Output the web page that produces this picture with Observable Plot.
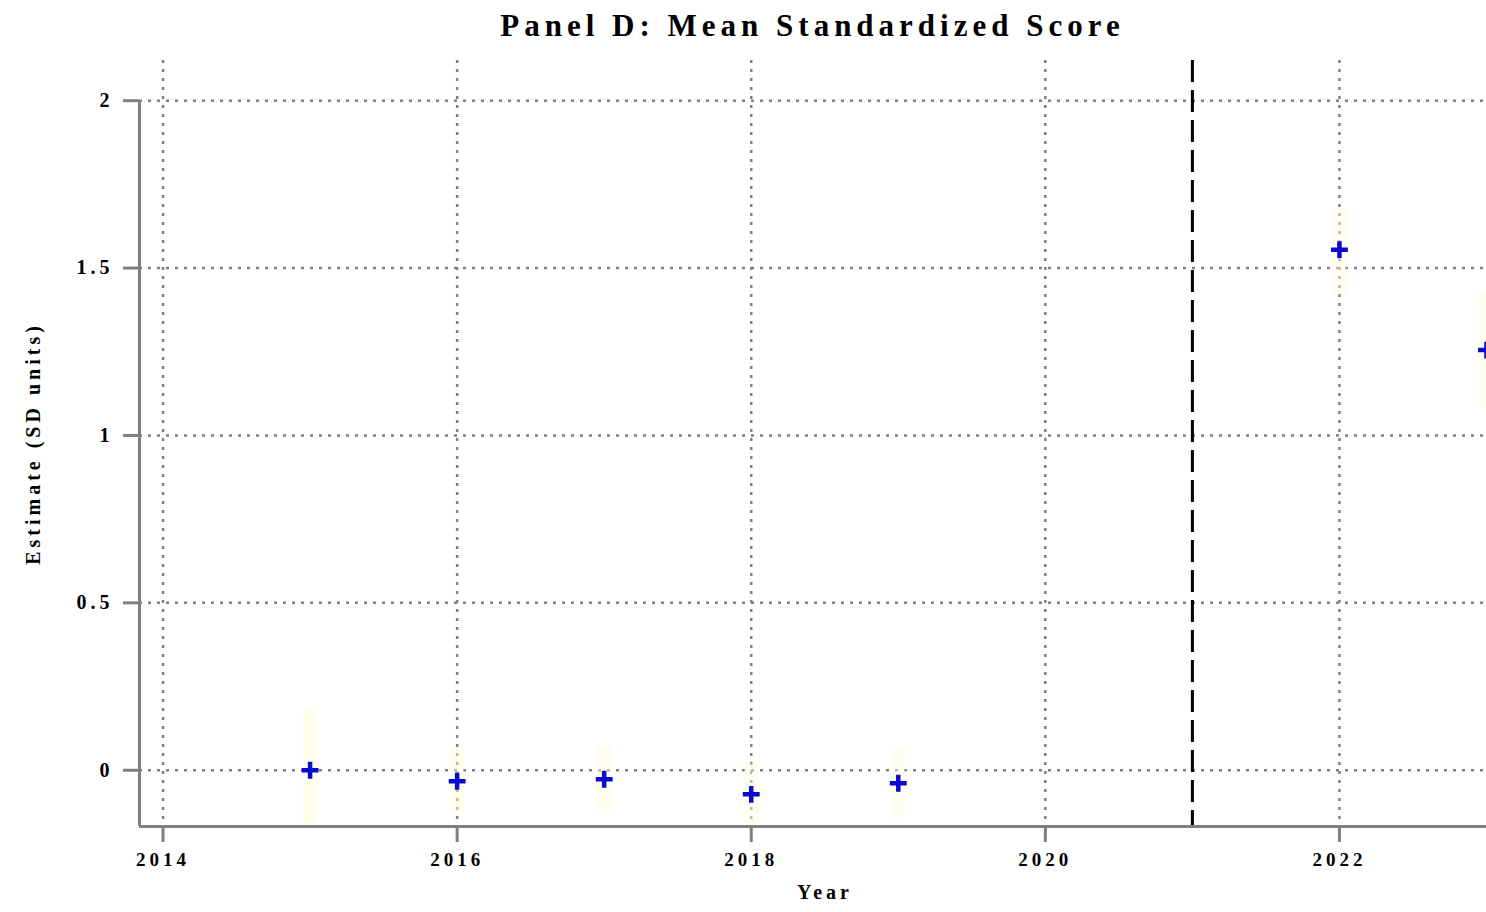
<!DOCTYPE html>
<html>
<head>
<meta charset="utf-8">
<script src="https://cdn.jsdelivr.net/npm/d3@7"></script>
<script src="https://cdn.jsdelivr.net/npm/@observablehq/plot@0.6"></script>
<style>
  html, body { margin: 0; padding: 0; background: #fff; }
  #title { height: 50px; margin-left: 139px; width: 1347px; text-align: center;
           font-family: "Liberation Serif", serif; font-size: 31px; letter-spacing: 5px;
           line-height: 52px; color: #000; font-weight: bold; }
  #chart svg { display: block; }
</style>
</head>
<body>
<div id="title">Panel D: Mean Standardized Score</div>
<div id="chart"></div>
<script>
const years = [2015, 2016, 2017, 2018, 2019, 2022, 2023];
const estimates = [0.0, -0.033, -0.027, -0.072, -0.039, 1.555, 1.255];
const ciLow = [-0.17, -0.13, -0.12, -0.16, -0.14, 1.42, 1.08];
const ciHigh = [0.18, 0.06, 0.07, 0.02, 0.06, 1.68, 1.43];
const xTicks = [2014, 2016, 2018, 2020, 2022];
const yTicks = [0, 0.5, 1, 1.5, 2];
const yTickLabels = ["0", "0.5", "1", "1.5", "2"];
const breakYear = [2021];
const xDomain = [2013.84, 2023];
const yDomain = [-0.168, 2.12];

const data = years.map((y, i) => ({year: y, est: estimates[i], lo: ciLow[i], hi: ciHigh[i]}));

const chart = Plot.plot({
  width: 1486,
  height: 862,
  marginLeft: 139,
  marginRight: 0,
  marginTop: 10,
  marginBottom: 86,
  style: {fontFamily: "Liberation Serif, serif", fontSize: "19px", letterSpacing: "4px", fontWeight: "bold", color: "#000", background: "#fff"},
  x: {domain: xDomain},
  y: {domain: yDomain},
  marks: [
    Plot.gridX(xTicks, {stroke: "#808080", strokeOpacity: 1, strokeWidth: 2.5, strokeDasharray: "3,6"}),
    Plot.gridY(yTicks, {stroke: "#808080", strokeOpacity: 1, strokeWidth: 2.5, strokeDasharray: "3,6"}),
    Plot.ruleX(data, {x: "year", y1: "lo", y2: "hi", stroke: "#fffbd8", strokeOpacity: 0.45, strokeWidth: 14, clip: true}),
    Plot.ruleX(breakYear, {stroke: "#000", strokeWidth: 3, strokeDasharray: "22,8"}),
    Plot.ruleX([xDomain[0]], {y1: yDomain[0], y2: 2, stroke: "#808080", strokeWidth: 3}),
    Plot.ruleY([yDomain[0]], {stroke: "#808080", strokeWidth: 3}),
    Plot.axisX(xTicks, {tickFormat: d => String(d), tickSize: 16, tickPadding: 10, stroke: "#808080", strokeWidth: 3, fontSize: 19, fill: "#000", label: null}),
    Plot.axisY(yTicks, {tickFormat: (d) => yTickLabels[yTicks.indexOf(d)], tickSize: 16, tickPadding: 10, stroke: "#808080", strokeWidth: 3, fontSize: 20, fill: "#000", label: null}),
    Plot.dot(data, {x: "year", y: "est", symbol: "plus", r: 5.5, stroke: "#0a0ad0", strokeWidth: 4.5, clip: true}),
    Plot.text(["Estimate (SD units)"], {frameAnchor: "left", textAnchor: "middle", dx: -106, rotate: -90, fontSize: 20, letterSpacing: "5px"}),
    Plot.text(["Year"], {frameAnchor: "bottom", dx: 12, dy: 72, fontSize: 20})
  ]
});
document.getElementById("chart").appendChild(chart);
</script>
</body>
</html>
